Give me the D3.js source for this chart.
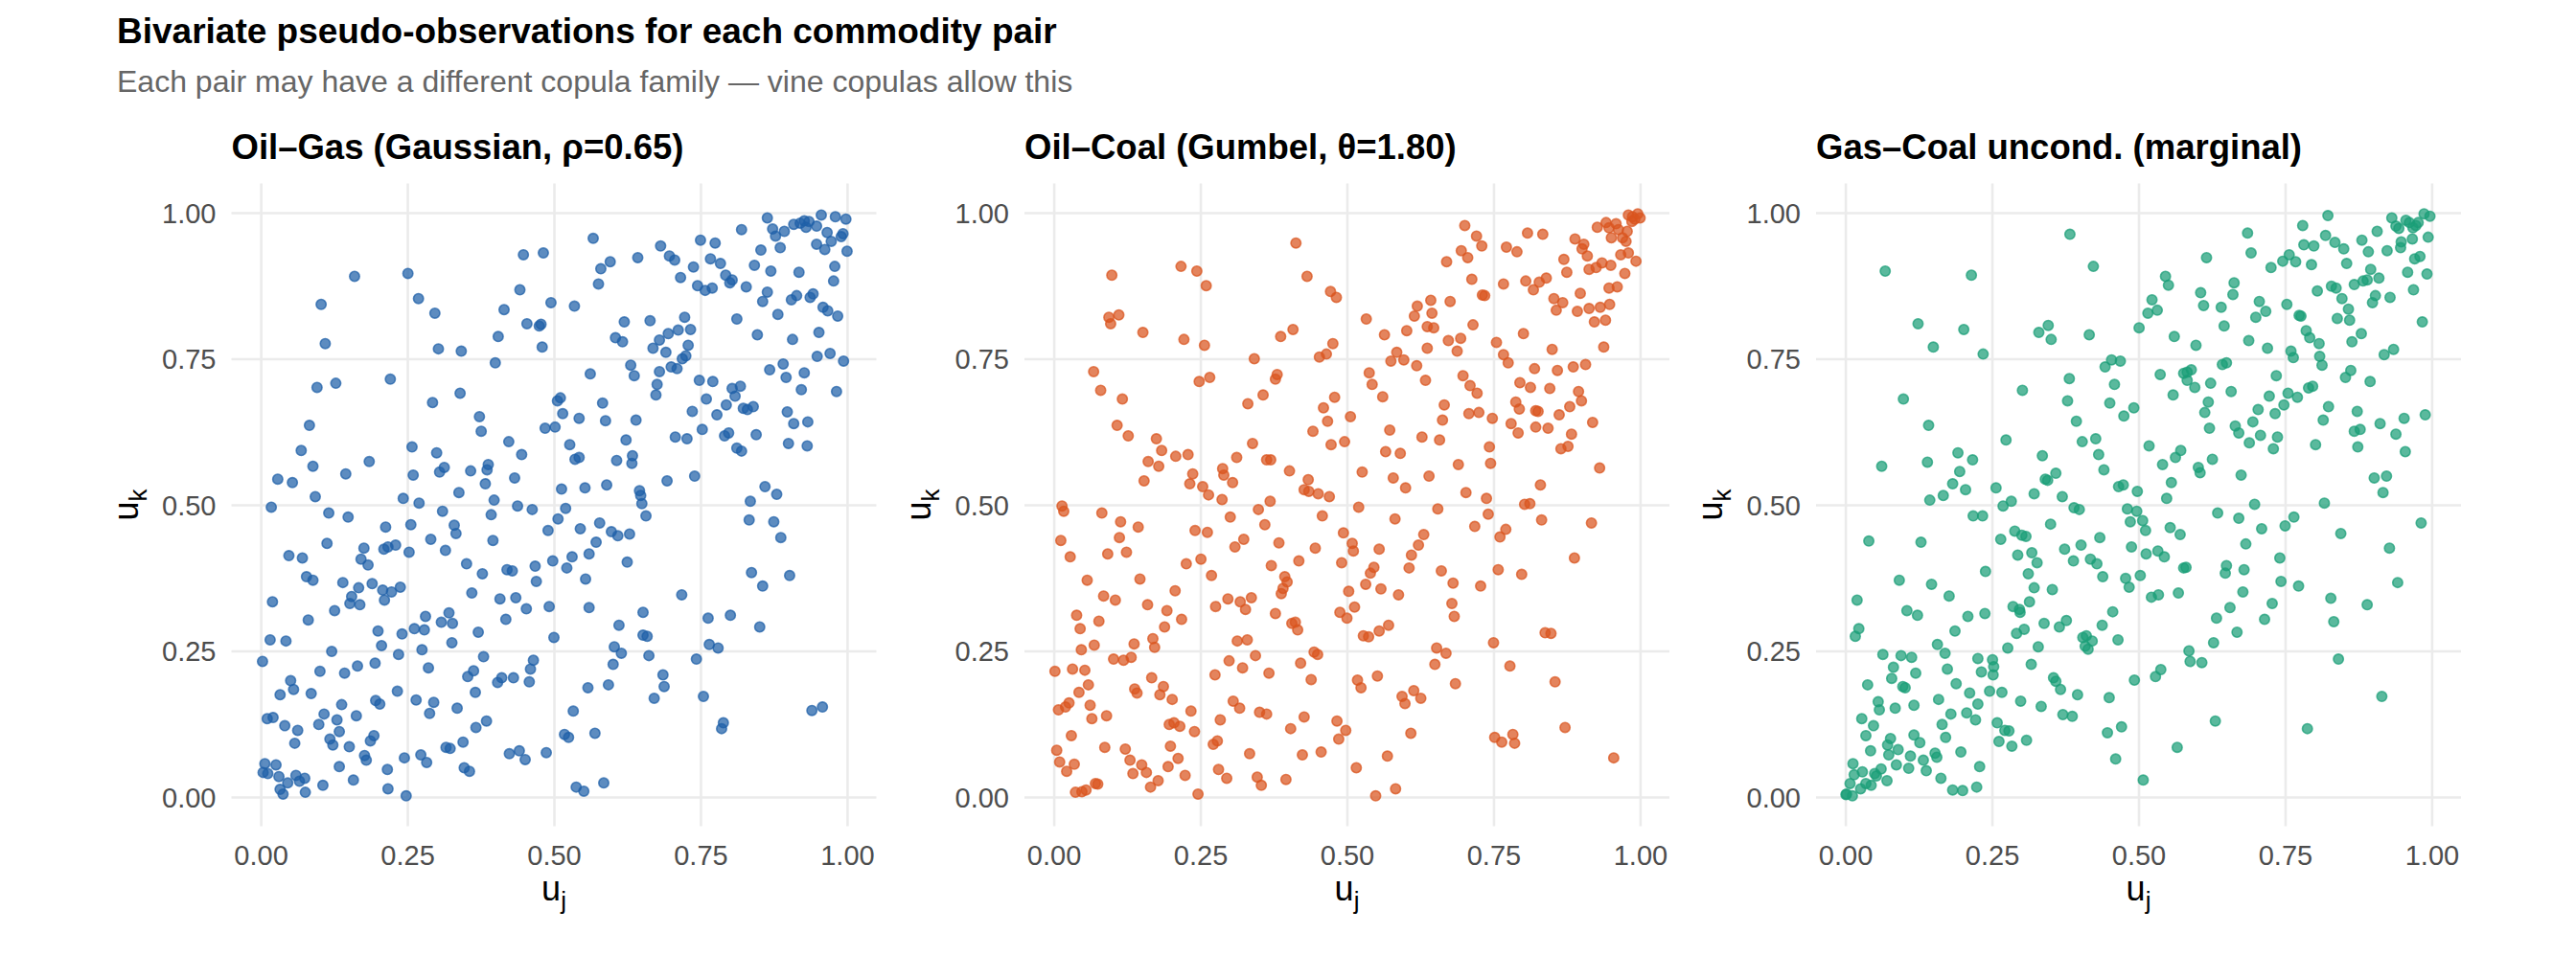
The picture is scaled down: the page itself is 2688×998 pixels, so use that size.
<!DOCTYPE html>
<html>
<head>
<meta charset="utf-8">
<script src="https://cdn.jsdelivr.net/npm/d3@7"></script>
<style>
  html, body { margin: 0; padding: 0; background: #ffffff; }
  svg { display: block; }
</style>
</head>
<body>
<svg id="chart" width="2688" height="998"></svg>
<script>
// ---------------- data ----------------
const chartTitle = "Bivariate pseudo-observations for each commodity pair";
const chartSubtitle = "Each pair may have a different copula family \u2014 vine copulas allow this";
const panelTitles = ["Oil\u2013Gas (Gaussian, \u03C1=0.65)", "Oil\u2013Coal (Gumbel, \u03B8=1.80)", "Gas\u2013Coal uncond. (marginal)"];
const tickValues = [0, 0.25, 0.5, 0.75, 1];
const tickLabels = ["0.00", "0.25", "0.50", "0.75", "1.00"];
const xLabelSub = "j";
const yLabelSub = "k";

const oilGas = [
[0.956,0.996],[0.864,0.991],[0.98,0.993],[0.935,0.985],[0.92,0.982],[0.909,0.98],[0.927,0.986],[0.93,0.975],[0.948,0.977],[0.998,0.989],
[0.873,0.972],[0.82,0.971],[0.878,0.96],[0.893,0.968],[0.966,0.966],[0.993,0.964],[0.99,0.959],[0.886,0.94],[0.973,0.951],[0.948,0.946],
[0.962,0.937],[1.0,0.934],[0.567,0.956],[0.682,0.943],[0.775,0.948],[0.75,0.953],[0.853,0.936],[0.697,0.926],[0.706,0.919],[0.767,0.921],
[0.784,0.913],[0.643,0.923],[0.596,0.916],[0.58,0.904],[0.448,0.928],[0.482,0.931],[0.738,0.907],[0.842,0.91],[0.87,0.9],[0.918,0.898],
[0.979,0.908],[0.793,0.893],[0.804,0.885],[0.8,0.88],[0.977,0.883],[0.716,0.889],[0.576,0.878],[0.745,0.875],[0.758,0.867],[0.77,0.871],
[0.828,0.873],[0.864,0.864],[0.856,0.848],[0.914,0.858],[0.937,0.855],[0.942,0.861],[0.905,0.851],[0.442,0.868],[0.16,0.891],[0.251,0.896],
[0.269,0.853],[0.495,0.846],[0.535,0.84],[0.882,0.826],[0.812,0.818],[0.959,0.838],[0.967,0.832],[0.984,0.823],[0.297,0.828],[0.103,0.843],
[0.415,0.834],[0.454,0.81],[0.475,0.806],[0.478,0.809],[0.62,0.813],[0.664,0.815],[0.723,0.821],[0.733,0.8],[0.695,0.793],[0.712,0.799],
[0.68,0.782],[0.847,0.791],[0.952,0.795],[0.907,0.783],[0.605,0.786],[0.617,0.779],[0.405,0.788],[0.48,0.77],[0.11,0.776],[0.303,0.767],
[0.342,0.763],[0.4,0.743],[0.669,0.768],[0.691,0.761],[0.729,0.773],[0.725,0.755],[0.719,0.75],[0.71,0.733],[0.7,0.736],[0.68,0.728],
[0.631,0.739],[0.637,0.721],[0.562,0.724],[0.868,0.731],[0.891,0.741],[0.896,0.718],[0.927,0.726],[0.971,0.759],[0.949,0.754],[0.994,0.746],
[0.221,0.715],[0.128,0.708],[0.096,0.701],[0.748,0.713],[0.771,0.711],[0.676,0.706],[0.674,0.688],[0.804,0.699],[0.818,0.703],[0.809,0.686],
[0.982,0.694],[0.922,0.697],[0.34,0.691],[0.293,0.675],[0.506,0.678],[0.511,0.683],[0.515,0.656],[0.583,0.674],[0.76,0.681],[0.794,0.671],
[0.778,0.654],[0.736,0.66],[0.823,0.665],[0.83,0.663],[0.84,0.668],[0.898,0.659],[0.909,0.639],[0.933,0.642],[0.932,0.601],[0.9,0.605],
[0.373,0.651],[0.376,0.626],[0.083,0.636],[0.543,0.648],[0.588,0.644],[0.64,0.645],[0.485,0.631],[0.502,0.633],[0.753,0.629],[0.791,0.618],
[0.798,0.623],[0.845,0.62],[0.707,0.616],[0.727,0.613],[0.623,0.611],[0.423,0.608],[0.527,0.603],[0.812,0.597],[0.82,0.592],[0.069,0.593],
[0.258,0.599],[0.3,0.589],[0.445,0.586],[0.536,0.578],[0.543,0.581],[0.607,0.576],[0.633,0.571],[0.634,0.584],[0.089,0.566],[0.185,0.574],
[0.313,0.564],[0.305,0.556],[0.388,0.569],[0.386,0.56],[0.358,0.558],[0.145,0.553],[0.26,0.551],[0.433,0.546],[0.029,0.544],[0.054,0.538],
[0.74,0.549],[0.693,0.541],[0.383,0.536],[0.513,0.527],[0.553,0.529],[0.59,0.534],[0.646,0.524],[0.648,0.516],[0.65,0.502],[0.657,0.481],
[0.86,0.531],[0.88,0.518],[0.835,0.506],[0.338,0.521],[0.243,0.511],[0.093,0.514],[0.018,0.496],[0.27,0.503],[0.398,0.508],[0.438,0.498],
[0.463,0.492],[0.52,0.494],[0.31,0.489],[0.116,0.486],[0.149,0.479],[0.393,0.483],[0.507,0.476],[0.833,0.474],[0.875,0.471],[0.578,0.469],
[0.256,0.466],[0.33,0.465],[0.213,0.462],[0.545,0.459],[0.333,0.451],[0.49,0.456],[0.598,0.454],[0.609,0.447],[0.629,0.45],[0.887,0.444],
[0.29,0.441],[0.396,0.439],[0.113,0.434],[0.572,0.436],[0.23,0.431],[0.21,0.424],[0.217,0.428],[0.176,0.426],[0.253,0.419],[0.315,0.422],
[0.56,0.416],[0.048,0.413],[0.071,0.409],[0.171,0.407],[0.183,0.397],[0.531,0.411],[0.498,0.404],[0.351,0.399],[0.625,0.402],[0.522,0.392],
[0.468,0.395],[0.42,0.389],[0.429,0.387],[0.378,0.382],[0.837,0.384],[0.902,0.379],[0.078,0.377],[0.089,0.371],[0.554,0.373],[0.47,0.369],
[0.14,0.367],[0.19,0.365],[0.167,0.358],[0.238,0.359],[0.856,0.361],[0.208,0.354],[0.223,0.351],[0.36,0.349],[0.155,0.343],[0.718,0.346],
[0.408,0.339],[0.435,0.341],[0.02,0.334],[0.152,0.331],[0.169,0.329],[0.211,0.337],[0.492,0.326],[0.56,0.324],[0.453,0.322],[0.126,0.319],
[0.652,0.316],[0.321,0.315],[0.801,0.311],[0.763,0.306],[0.281,0.309],[0.418,0.304],[0.081,0.303],[0.308,0.299],[0.327,0.297],[0.611,0.294],
[0.851,0.291],[0.262,0.288],[0.279,0.286],[0.2,0.284],[0.371,0.282],[0.241,0.279],[0.652,0.277],[0.659,0.275],[0.5,0.273],[0.016,0.269],
[0.043,0.267],[0.326,0.264],[0.765,0.261],[0.206,0.259],[0.603,0.257],[0.78,0.255],[0.275,0.252],[0.121,0.249],[0.615,0.246],[0.235,0.244],
[0.662,0.242],[0.38,0.24],[0.743,0.236],[0.003,0.232],[0.465,0.234],[0.195,0.229],[0.165,0.224],[0.601,0.227],[0.286,0.221],[0.46,0.219],
[0.363,0.216],[0.101,0.215],[0.143,0.212],[0.686,0.209],[0.353,0.206],[0.411,0.204],[0.431,0.204],[0.051,0.199],[0.404,0.196],[0.458,0.197],
[0.593,0.192],[0.688,0.189],[0.056,0.184],[0.233,0.181],[0.558,0.187],[0.366,0.179],[0.086,0.177],[0.033,0.175],[0.671,0.169],[0.755,0.172],
[0.265,0.166],[0.196,0.165],[0.203,0.159],[0.295,0.162],[0.138,0.158],[0.335,0.152],[0.94,0.148],[0.958,0.154],[0.533,0.147],[0.108,0.142],
[0.288,0.143],[0.163,0.139],[0.021,0.136],[0.011,0.134],[0.13,0.132],[0.385,0.13],[0.789,0.127],[0.041,0.122],[0.099,0.124],[0.367,0.119],
[0.786,0.117],[0.063,0.114],[0.134,0.112],[0.57,0.109],[0.518,0.107],[0.525,0.102],[0.193,0.105],[0.118,0.099],[0.187,0.096],[0.345,0.094],
[0.058,0.092],[0.123,0.089],[0.151,0.086],[0.316,0.085],[0.323,0.083],[0.424,0.074],[0.441,0.079],[0.487,0.076],[0.451,0.064],[0.177,0.071],
[0.18,0.063],[0.245,0.067],[0.273,0.072],[0.283,0.059],[0.007,0.057],[0.026,0.055],[0.134,0.052],[0.216,0.047],[0.347,0.05],[0.356,0.044],
[0.004,0.042],[0.012,0.04],[0.031,0.035],[0.06,0.037],[0.075,0.032],[0.066,0.027],[0.158,0.029],[0.046,0.024],[0.106,0.02],[0.585,0.024],
[0.217,0.014],[0.538,0.017],[0.551,0.01],[0.033,0.013],[0.076,0.008],[0.038,0.005],[0.248,0.002]
];

const oilCoal = [
[0.98,0.996],[0.987,0.993],[0.996,0.998],[0.991,0.989],[1.0,0.991],[0.986,0.985],[0.942,0.983],[0.959,0.981],[0.947,0.974],[0.978,0.968],
[0.963,0.971],[0.927,0.975],[0.951,0.957],[0.97,0.957],[0.976,0.951],[0.889,0.955],[0.904,0.946],[0.901,0.938],[0.91,0.926],[0.967,0.928],
[0.98,0.931],[0.993,0.917],[0.701,0.978],[0.721,0.96],[0.73,0.943],[0.808,0.965],[0.834,0.963],[0.772,0.941],[0.79,0.933],[0.695,0.935],
[0.706,0.923],[0.67,0.916],[0.87,0.92],[0.935,0.914],[0.95,0.91],[0.925,0.906],[0.913,0.903],[0.875,0.898],[0.974,0.896],[0.84,0.888],
[0.828,0.881],[0.805,0.883],[0.818,0.868],[0.767,0.878],[0.713,0.886],[0.731,0.859],[0.735,0.858],[0.898,0.862],[0.961,0.873],[0.947,0.871],
[0.853,0.853],[0.868,0.846],[0.857,0.833],[0.893,0.831],[0.913,0.836],[0.932,0.838],[0.948,0.843],[0.922,0.813],[0.941,0.816],[0.938,0.77],
[0.643,0.85],[0.676,0.848],[0.62,0.84],[0.645,0.828],[0.615,0.823],[0.637,0.805],[0.648,0.803],[0.602,0.798],[0.564,0.791],[0.715,0.808],
[0.801,0.793],[0.755,0.778],[0.673,0.781],[0.694,0.785],[0.688,0.763],[0.637,0.768],[0.767,0.757],[0.775,0.743],[0.85,0.766],[0.585,0.761],
[0.575,0.746],[0.597,0.748],[0.619,0.738],[0.533,0.818],[0.408,0.8],[0.387,0.788],[0.476,0.776],[0.465,0.758],[0.453,0.753],[0.413,0.948],
[0.432,0.891],[0.472,0.865],[0.482,0.855],[0.217,0.908],[0.244,0.9],[0.26,0.875],[0.099,0.893],[0.094,0.821],[0.111,0.825],[0.097,0.81],
[0.152,0.795],[0.222,0.783],[0.257,0.773],[0.342,0.75],[0.068,0.728],[0.08,0.696],[0.117,0.681],[0.108,0.636],[0.127,0.618],[0.248,0.711],
[0.266,0.718],[0.378,0.715],[0.381,0.723],[0.357,0.688],[0.331,0.673],[0.479,0.684],[0.46,0.666],[0.467,0.643],[0.442,0.626],[0.473,0.603],
[0.496,0.608],[0.506,0.651],[0.339,0.605],[0.538,0.726],[0.543,0.706],[0.561,0.685],[0.634,0.713],[0.698,0.721],[0.71,0.704],[0.722,0.691],
[0.82,0.733],[0.859,0.73],[0.886,0.736],[0.907,0.74],[0.795,0.709],[0.813,0.701],[0.846,0.699],[0.895,0.694],[0.9,0.678],[0.788,0.676],
[0.794,0.664],[0.822,0.661],[0.826,0.66],[0.862,0.654],[0.88,0.668],[0.666,0.671],[0.663,0.645],[0.708,0.656],[0.725,0.658],[0.748,0.648],
[0.573,0.628],[0.628,0.616],[0.658,0.611],[0.78,0.639],[0.792,0.623],[0.822,0.633],[0.843,0.631],[0.883,0.621],[0.865,0.596],[0.877,0.6],
[0.919,0.641],[0.743,0.599],[0.745,0.571],[0.931,0.563],[0.566,0.591],[0.591,0.588],[0.526,0.556],[0.579,0.546],[0.6,0.529],[0.64,0.549],
[0.69,0.569],[0.703,0.521],[0.738,0.511],[0.741,0.484],[0.83,0.534],[0.803,0.501],[0.812,0.502],[0.832,0.474],[0.917,0.469],[0.888,0.409],
[0.718,0.463],[0.761,0.445],[0.771,0.458],[0.655,0.493],[0.582,0.476],[0.52,0.496],[0.458,0.481],[0.427,0.526],[0.435,0.523],[0.434,0.543],
[0.451,0.519],[0.47,0.514],[0.402,0.558],[0.37,0.577],[0.363,0.577],[0.312,0.581],[0.288,0.562],[0.29,0.551],[0.305,0.538],[0.237,0.553],
[0.254,0.531],[0.232,0.536],[0.264,0.517],[0.287,0.509],[0.175,0.613],[0.184,0.593],[0.161,0.574],[0.179,0.566],[0.208,0.583],[0.229,0.586],
[0.154,0.541],[0.369,0.506],[0.349,0.492],[0.36,0.466],[0.301,0.479],[0.384,0.435],[0.324,0.441],[0.309,0.428],[0.262,0.453],[0.241,0.456],
[0.014,0.498],[0.017,0.489],[0.082,0.486],[0.114,0.471],[0.144,0.462],[0.012,0.439],[0.028,0.411],[0.112,0.444],[0.124,0.419],[0.092,0.416],
[0.494,0.452],[0.509,0.434],[0.511,0.421],[0.555,0.424],[0.446,0.426],[0.418,0.404],[0.491,0.401],[0.606,0.392],[0.61,0.414],[0.622,0.431],
[0.631,0.449],[0.661,0.387],[0.681,0.366],[0.728,0.361],[0.758,0.389],[0.798,0.381],[0.251,0.407],[0.226,0.399],[0.371,0.396],[0.269,0.379],
[0.394,0.377],[0.398,0.368],[0.391,0.357],[0.388,0.348],[0.057,0.371],[0.147,0.373],[0.207,0.353],[0.085,0.344],[0.105,0.337],[0.16,0.329],
[0.193,0.319],[0.189,0.291],[0.218,0.304],[0.039,0.311],[0.045,0.288],[0.077,0.301],[0.276,0.326],[0.297,0.339],[0.318,0.334],[0.327,0.321],
[0.337,0.341],[0.378,0.314],[0.406,0.297],[0.412,0.299],[0.416,0.286],[0.488,0.316],[0.5,0.306],[0.513,0.325],[0.503,0.352],[0.532,0.364],
[0.54,0.383],[0.546,0.393],[0.558,0.356],[0.588,0.346],[0.679,0.331],[0.683,0.309],[0.069,0.26],[0.047,0.252],[0.102,0.236],[0.119,0.234],
[0.132,0.239],[0.137,0.262],[0.169,0.271],[0.172,0.256],[0.313,0.267],[0.33,0.269],[0.344,0.242],[0.421,0.229],[0.444,0.248],[0.45,0.244],
[0.528,0.276],[0.537,0.274],[0.555,0.284],[0.571,0.294],[0.653,0.255],[0.669,0.246],[0.65,0.227],[0.75,0.264],[0.778,0.224],[0.838,0.281],
[0.848,0.28],[0.002,0.215],[0.032,0.219],[0.053,0.217],[0.059,0.192],[0.043,0.179],[0.167,0.204],[0.187,0.189],[0.181,0.175],[0.138,0.185],
[0.142,0.178],[0.275,0.209],[0.299,0.233],[0.322,0.221],[0.367,0.212],[0.439,0.201],[0.518,0.2],[0.524,0.187],[0.552,0.207],[0.594,0.172],
[0.599,0.16],[0.614,0.182],[0.626,0.169],[0.685,0.194],[0.855,0.197],[0.008,0.149],[0.02,0.154],[0.026,0.161],[0.062,0.157],[0.065,0.134],
[0.09,0.139],[0.03,0.105],[0.202,0.167],[0.205,0.127],[0.197,0.124],[0.215,0.121],[0.234,0.147],[0.24,0.112],[0.284,0.132],[0.306,0.164],
[0.317,0.152],[0.351,0.145],[0.363,0.142],[0.404,0.117],[0.427,0.137],[0.483,0.13],[0.498,0.114],[0.486,0.099],[0.609,0.109],[0.872,0.119],
[0.005,0.08],[0.01,0.06],[0.022,0.044],[0.035,0.056],[0.087,0.085],[0.122,0.082],[0.13,0.063],[0.135,0.04],[0.15,0.055],[0.158,0.042],
[0.165,0.017],[0.178,0.028],[0.195,0.052],[0.199,0.087],[0.212,0.066],[0.224,0.037],[0.272,0.09],[0.279,0.096],[0.281,0.047],[0.295,0.032],
[0.334,0.074],[0.347,0.034],[0.354,0.02],[0.396,0.03],[0.424,0.072],[0.456,0.077],[0.516,0.05],[0.569,0.07],[0.752,0.102],[0.764,0.094],
[0.783,0.107],[0.786,0.092],[0.955,0.067],[0.583,0.014],[0.549,0.002],[0.246,0.005],[0.037,0.008],[0.048,0.009],[0.055,0.012],[0.071,0.023],
[0.075,0.022]
];

const gasCoal = [
[0.823,0.995],[0.78,0.978],[0.686,0.965],[0.692,0.931],[0.782,0.945],[0.799,0.943],[0.819,0.961],[0.835,0.949],[0.85,0.938],[0.881,0.953],
[0.892,0.933],[0.907,0.968],[0.924,0.935],[0.932,0.991],[0.939,0.977],[0.944,0.973],[0.956,0.987],[0.962,0.983],[0.968,0.974],[0.973,0.978],
[0.977,0.983],[0.987,0.998],[0.997,0.994],[0.967,0.955],[0.948,0.95],[0.947,0.94],[0.994,0.958],[0.971,0.921],[0.98,0.925],[0.959,0.898],
[0.992,0.895],[0.969,0.868],[0.984,0.813],[0.746,0.917],[0.757,0.928],[0.768,0.916],[0.726,0.906],[0.795,0.911],[0.855,0.913],[0.896,0.903],
[0.91,0.888],[0.883,0.883],[0.89,0.885],[0.868,0.877],[0.829,0.874],[0.837,0.871],[0.805,0.866],[0.847,0.853],[0.858,0.835],[0.86,0.816],
[0.839,0.819],[0.904,0.858],[0.899,0.846],[0.929,0.855],[0.919,0.757],[0.935,0.766],[0.753,0.843],[0.774,0.824],[0.777,0.823],[0.786,0.798],
[0.792,0.786],[0.808,0.776],[0.76,0.763],[0.764,0.752],[0.72,0.768],[0.706,0.848],[0.717,0.831],[0.7,0.821],[0.688,0.781],[0.809,0.754],
[0.813,0.739],[0.864,0.779],[0.88,0.793],[0.616,0.923],[0.663,0.88],[0.661,0.86],[0.641,0.838],[0.646,0.806],[0.606,0.863],[0.611,0.841],
[0.546,0.891],[0.551,0.876],[0.523,0.851],[0.516,0.828],[0.532,0.833],[0.501,0.803],[0.561,0.788],[0.598,0.773],[0.383,0.963],[0.423,0.908],
[0.416,0.791],[0.33,0.795],[0.346,0.807],[0.351,0.783],[0.068,0.9],[0.215,0.893],[0.124,0.81],[0.202,0.8],[0.15,0.77],[0.235,0.758],
[0.443,0.736],[0.454,0.748],[0.469,0.746],[0.59,0.731],[0.583,0.727],[0.577,0.725],[0.583,0.713],[0.596,0.701],[0.537,0.723],[0.623,0.708],
[0.643,0.74],[0.65,0.743],[0.658,0.694],[0.619,0.676],[0.613,0.658],[0.621,0.631],[0.559,0.688],[0.451,0.674],[0.459,0.706],[0.492,0.666],
[0.475,0.652],[0.735,0.721],[0.723,0.686],[0.755,0.691],[0.771,0.684],[0.748,0.671],[0.704,0.663],[0.733,0.656],[0.695,0.642],[0.708,0.619],
[0.737,0.616],[0.73,0.596],[0.689,0.606],[0.665,0.635],[0.671,0.623],[0.79,0.7],[0.797,0.703],[0.824,0.668],[0.815,0.645],[0.802,0.603],
[0.853,0.718],[0.862,0.73],[0.895,0.711],[0.873,0.66],[0.868,0.626],[0.878,0.629],[0.874,0.599],[0.912,0.639],[0.953,0.648],[0.989,0.654],
[0.939,0.621],[0.955,0.591],[0.902,0.546],[0.923,0.549],[0.917,0.521],[0.817,0.503],[0.845,0.451],[0.982,0.469],[0.928,0.426],[0.942,0.367],
[0.89,0.329],[0.915,0.172],[0.788,0.117],[0.841,0.236],[0.833,0.3],[0.828,0.34],[0.773,0.361],[0.765,0.479],[0.75,0.464],[0.741,0.409],
[0.743,0.369],[0.728,0.331],[0.715,0.304],[0.71,0.459],[0.698,0.501],[0.675,0.551],[0.683,0.433],[0.68,0.389],[0.678,0.351],[0.671,0.477],
[0.65,0.396],[0.648,0.383],[0.635,0.486],[0.656,0.324],[0.668,0.282],[0.633,0.306],[0.628,0.264],[0.626,0.578],[0.602,0.564],[0.605,0.555],
[0.563,0.581],[0.556,0.538],[0.541,0.569],[0.572,0.593],[0.518,0.601],[0.548,0.511],[0.554,0.461],[0.571,0.449],[0.577,0.392],[0.581,0.393],
[0.568,0.349],[0.544,0.411],[0.533,0.421],[0.522,0.342],[0.534,0.346],[0.513,0.416],[0.512,0.456],[0.507,0.473],[0.503,0.379],[0.497,0.489],
[0.486,0.471],[0.481,0.493],[0.498,0.523],[0.474,0.534],[0.466,0.531],[0.488,0.428],[0.478,0.374],[0.484,0.359],[0.441,0.56],[0.432,0.586],
[0.427,0.613],[0.404,0.608],[0.394,0.643],[0.379,0.678],[0.382,0.716],[0.302,0.696],[0.274,0.611],[0.301,0.448],[0.289,0.455],[0.308,0.446],
[0.318,0.418],[0.327,0.401],[0.322,0.358],[0.312,0.382],[0.294,0.414],[0.265,0.441],[0.269,0.498],[0.283,0.506],[0.257,0.529],[0.239,0.386],
[0.238,0.314],[0.226,0.237],[0.251,0.235],[0.253,0.223],[0.252,0.209],[0.246,0.181],[0.267,0.179],[0.232,0.214],[0.212,0.178],[0.226,0.159],
[0.222,0.132],[0.207,0.144],[0.18,0.142],[0.187,0.284],[0.177,0.344],[0.167,0.516],[0.144,0.508],[0.183,0.536],[0.192,0.589],[0.195,0.557],
[0.205,0.526],[0.217,0.577],[0.14,0.573],[0.062,0.566],[0.099,0.681],[0.142,0.636],[0.234,0.481],[0.218,0.481],[0.129,0.436],[0.04,0.438],
[0.092,0.371],[0.147,0.364],[0.105,0.319],[0.123,0.311],[0.02,0.337],[0.023,0.288],[0.017,0.275],[0.209,0.309],[0.157,0.261],[0.17,0.246],
[0.174,0.219],[0.189,0.194],[0.159,0.167],[0.165,0.124],[0.171,0.102],[0.064,0.244],[0.095,0.242],[0.113,0.239],[0.082,0.222],[0.079,0.203],
[0.098,0.189],[0.102,0.187],[0.12,0.212],[0.038,0.192],[0.056,0.163],[0.058,0.149],[0.085,0.152],[0.117,0.157],[0.127,0.093],[0.117,0.106],
[0.077,0.1],[0.072,0.089],[0.074,0.072],[0.09,0.081],[0.043,0.079],[0.035,0.105],[0.048,0.122],[0.028,0.134],[0.013,0.057],[0.015,0.038],
[0.029,0.043],[0.05,0.04],[0.061,0.048],[0.053,0.036],[0.044,0.02],[0.026,0.014],[0.035,0.023],[0.008,0.023],[0.002,0.005],[0.012,0.002],
[0.001,0.004],[0.071,0.028],[0.087,0.055],[0.108,0.049],[0.111,0.07],[0.133,0.063],[0.138,0.045],[0.153,0.075],[0.156,0.068],[0.163,0.032],
[0.183,0.012],[0.2,0.011],[0.224,0.017],[0.229,0.052],[0.197,0.077],[0.259,0.127],[0.272,0.114],[0.279,0.113],[0.262,0.095],[0.284,0.087],
[0.309,0.097],[0.299,0.164],[0.317,0.227],[0.329,0.257],[0.334,0.155],[0.298,0.316],[0.286,0.326],[0.297,0.321],[0.292,0.28],[0.305,0.287],
[0.314,0.334],[0.339,0.297],[0.365,0.291],[0.377,0.302],[0.355,0.204],[0.359,0.198],[0.367,0.184],[0.371,0.141],[0.387,0.138],[0.396,0.175],
[0.405,0.273],[0.411,0.276],[0.409,0.258],[0.414,0.253],[0.421,0.267],[0.438,0.294],[0.456,0.317],[0.465,0.269],[0.45,0.17],[0.447,0.11],
[0.471,0.12],[0.461,0.065],[0.508,0.029],[0.493,0.2],[0.529,0.206],[0.538,0.218],[0.566,0.085],[0.586,0.25],[0.588,0.232],[0.608,0.23],
[0.631,0.13],[0.336,0.584],[0.341,0.544],[0.345,0.542],[0.359,0.554],[0.322,0.519],[0.37,0.514],[0.39,0.495],[0.399,0.492],[0.35,0.467],
[0.374,0.424],[0.389,0.404],[0.402,0.431],[0.418,0.407],[0.429,0.399],[0.434,0.444],[0.439,0.377],[0.353,0.355],[0.277,0.255]
];

const seriesList = [oilGas, oilCoal, gasCoal];
const seriesColors = ["#1F5FA8", "#DA541F", "#1B9E77"];

// ---------------- layout ----------------
const svg = d3.select("#chart");
const FONT = "'Liberation Sans', Arial, Helvetica, sans-serif";
const panelW = 673, panelTop = 191.5, panelBottom = 862.5;
const panelLefts = [241.5, 1069, 1895];

svg.append("rect").attr("width", 2688).attr("height", 998).attr("fill", "#ffffff");

svg.append("text").attr("x", 122).attr("y", 45)
  .attr("font-family", FONT).attr("font-weight", "bold").attr("font-size", 37).attr("fill", "#000")
  .text(chartTitle);
svg.append("text").attr("x", 122).attr("y", 96)
  .attr("font-family", FONT).attr("font-size", 32).attr("fill", "#666666")
  .text(chartSubtitle);

panelTitles.forEach((title, i) => {
  const L = panelLefts[i];
  const x = d3.scaleLinear().domain([-0.05, 1.05]).range([L, L + panelW]);
  const y = d3.scaleLinear().domain([-0.05, 1.05]).range([panelBottom, panelTop]);
  const g = svg.append("g");

  // gridlines + tick labels via axes
  const gx = g.append("g").attr("transform", `translate(0,${panelBottom})`)
    .call(d3.axisBottom(x).tickValues(tickValues).tickFormat((d, k) => tickLabels[k])
      .tickSize(-(panelBottom - panelTop)).tickPadding(20));
  const gy = g.append("g").attr("transform", `translate(${L},0)`)
    .call(d3.axisLeft(y).tickValues(tickValues).tickFormat((d, k) => tickLabels[k])
      .tickSize(-panelW).tickPadding(16));
  [gx, gy].forEach(a => {
    a.select(".domain").remove();
    a.attr("font-family", FONT).attr("font-size", 29);
    a.selectAll(".tick line").attr("stroke", "#EBEBEB").attr("stroke-width", 2.6);
    a.selectAll(".tick text").attr("fill", "#4D4D4D");
  });
  gy.selectAll(".tick text").attr("dy", "0.36em");

  // points
  g.append("g").selectAll("circle").data(seriesList[i]).join("circle")
    .attr("cx", d => x(d[0])).attr("cy", d => y(d[1])).attr("r", 5.2)
    .attr("fill", seriesColors[i]).attr("fill-opacity", 0.72)
    .attr("stroke", seriesColors[i]).attr("stroke-opacity", 0.72).attr("stroke-width", 1.6);

  // panel title
  g.append("text").attr("x", L).attr("y", 166)
    .attr("font-family", FONT).attr("font-weight", "bold").attr("font-size", 36.5).attr("fill", "#000")
    .text(title);

  // x axis title u_j
  const xt = g.append("text").attr("x", (L + panelW / 2)).attr("y", 940)
    .attr("text-anchor", "middle").attr("font-family", FONT).attr("font-size", 36).attr("fill", "#000");
  xt.append("tspan").text("u");
  xt.append("tspan").attr("dy", 9).attr("font-size", 26).text(xLabelSub);

  // y axis title u_k
  const yt = g.append("text")
    .attr("transform", `translate(${L - 98},${(panelTop + panelBottom) / 2}) rotate(-90)`)
    .attr("text-anchor", "middle").attr("font-family", FONT).attr("font-size", 36).attr("fill", "#000");
  yt.append("tspan").text("u");
  yt.append("tspan").attr("dy", 9).attr("font-size", 26).text(yLabelSub);
});
</script>
</body>
</html>
